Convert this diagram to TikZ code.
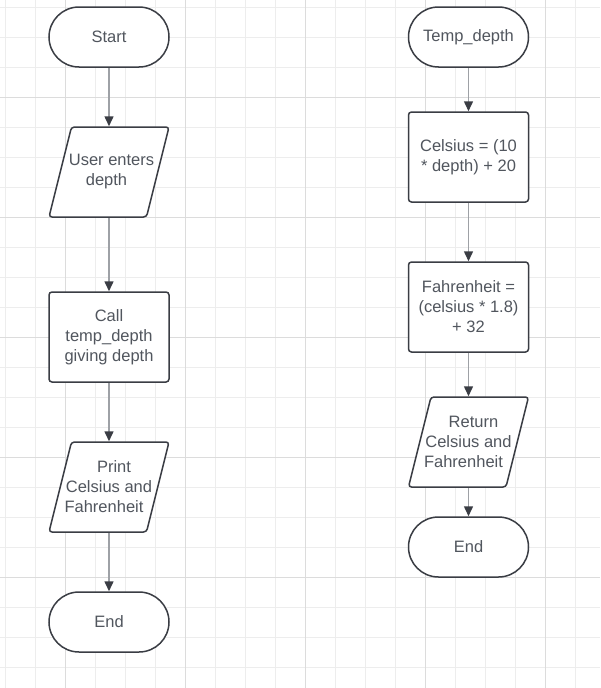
\documentclass[tikz,border=0pt]{standalone}
\usepackage{fontspec}
\setmainfont{Liberation Sans}
\usetikzlibrary{arrows.meta}
\definecolor{gridminor}{HTML}{EDEDED}
\definecolor{gridmajor}{HTML}{DCDCDC}
\definecolor{edge}{HTML}{3A3D44}
\definecolor{txt}{HTML}{51565E}
\definecolor{conn}{HTML}{9EA1A6}
\definecolor{tipc}{HTML}{3A3D44}
\tikzset{
  base/.style={draw=edge, line width=1.5pt, fill=white, text=txt,
    font=\fontsize{16.5}{20}\selectfont, align=center, inner sep=0pt,
    minimum width=120pt},
  terminal/.style={base, rounded corners=30pt, minimum height=60pt},
  procbox/.style={base, rounded corners=3pt, minimum height=90pt},
  iobox/.style={base, draw=none, fill=none, minimum height=90pt},
  ioshape/.style={draw=edge, line width=1.5pt, fill=white, rounded corners=3pt},
  conn/.style={draw=conn, line width=1.5pt,
    -{Triangle[length=10pt,width=9pt,color=tipc]}},
}
\newcommand{\ioparallelogram}[2]{%
  \begin{scope}[shift={(#1,#2)}]
    \draw[ioshape] (-37.5,-45) -- (60,-45) -- (37.5,45) -- (-60,45) -- cycle;
  \end{scope}}
\begin{document}
\begin{tikzpicture}[x=1pt,y=-1pt]
\fill[white] (0,0) rectangle (600,688);
\useasboundingbox (0,0) rectangle (600,688);
\foreach \x in {5,35,...,600} \draw[gridminor, line width=1pt] (\x,0) -- (\x,688);
\foreach \y in {7,37,...,688} \draw[gridminor, line width=1pt] (0,\y) -- (600,\y);
\foreach \x in {65,185,...,600} \draw[gridmajor, line width=1pt] (\x,0) -- (\x,688);
\foreach \y in {97,217,...,688} \draw[gridmajor, line width=1pt] (0,\y) -- (600,\y);

\ioparallelogram{109}{172}
\ioparallelogram{109}{487}
\ioparallelogram{468.5}{442}

\node[terminal] (start) at (109,37) {Start};
\node[iobox] (user) at (109,172) {\hspace*{5pt}User enters\\\hspace*{-5pt}depth};
\node[procbox] (call) at (109,337) {Call\\temp\_depth\\giving depth};
\node[iobox] (print) at (109,487) {\hspace*{10pt}Print\\Celsius and\\\hspace*{-10pt}Fahrenheit};
\node[terminal] (end1) at (109,622) {End};

\node[terminal] (temp) at (468.5,37) {Temp\_depth};
\node[procbox] (cel) at (468.5,157) {Celsius = (10\\* depth) + 20};
\node[procbox] (fah) at (468.5,307) {Fahrenheit =\\(celsius * 1.8)\\+ 32};
\node[iobox] (ret) at (468.5,442) {\hspace*{10pt}Return\\Celsius and\\\hspace*{-10pt}Fahrenheit};
\node[terminal] (end2) at (468.5,547) {End};

\draw[conn] (start.south) -- (user.north);
\draw[conn] (user.south) -- (call.north);
\draw[conn] (call.south) -- (print.north);
\draw[conn] (print.south) -- (end1.north);
\draw[conn] (temp.south) -- (cel.north);
\draw[conn] (cel.south) -- (fah.north);
\draw[conn] (fah.south) -- (ret.north);
\draw[conn] (ret.south) -- (end2.north);
\end{tikzpicture}
\end{document}
